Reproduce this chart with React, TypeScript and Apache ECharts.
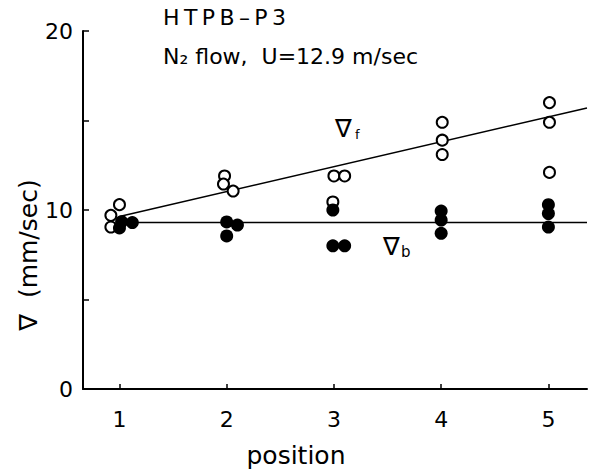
import React, { useEffect, useRef } from "react";
import * as echarts from "echarts";

const positionTicks = [1, 2, 3, 4, 5];
const yTickLabels = ["0", "", "10", "", "20"];

// open circles: V_f  [position, velocity mm/sec]
const vfPoints = [
  [1.0, 10.3], [0.92, 9.7], [0.92, 9.05],
  [1.98, 11.9], [1.97, 11.45], [2.06, 11.06],
  [3.0, 11.9], [3.1, 11.9], [2.99, 10.45],
  [4.01, 14.9], [4.01, 13.9], [4.01, 13.1],
  [5.01, 16.0], [5.01, 14.9], [5.01, 12.1],
];

// filled circles: V_b
const vbPoints = [
  [1.02, 9.35], [1.12, 9.3], [1.0, 9.0],
  [2.0, 9.33], [2.1, 9.16], [2.0, 8.55],
  [2.99, 10.0], [2.99, 8.0], [3.1, 8.0],
  [4.0, 9.94], [4.0, 9.44], [4.0, 8.7],
  [5.0, 10.3], [5.0, 9.8], [5.0, 9.05],
];

const vfFit = [[1.0, 9.64], [5.36, 15.7]];
const vbFit = [[1.0, 9.3], [5.36, 9.3]];

const FONT = "DejaVu Sans";

export default function App() {
  const ref = useRef<HTMLDivElement>(null);
  useEffect(() => {
    if (!ref.current) return;
    const chart = echarts.init(ref.current, null, { renderer: "svg" });
    chart.setOption({
      animation: false,
      backgroundColor: "#fff",
      grid: { left: 83, right: 7, top: 31, bottom: 81, containLabel: false },
      xAxis: {
        type: "value",
        min: 0.66,
        max: 5.36,
        splitLine: { show: false },
        axisLine: { lineStyle: { color: "#000", width: 2 } },
        axisTick: {
          inside: true,
          length: 5,
          customValues: positionTicks,
          lineStyle: { color: "#000", width: 1.5 },
        },
        axisLabel: {
          customValues: positionTicks,
          margin: 19,
          fontSize: 22,
          color: "#000",
          fontFamily: FONT,
        },
      },
      yAxis: {
        type: "value",
        min: 0,
        max: 20,
        interval: 5,
        splitLine: { show: false },
        axisLine: { show: true, lineStyle: { color: "#000", width: 2 } },
        axisTick: { inside: true, length: 6, lineStyle: { color: "#000", width: 1.5 } },
        axisLabel: {
          margin: 10,
          fontSize: 22,
          color: "#000",
          fontFamily: FONT,
          formatter: (v: number) => yTickLabels[Math.round(v / 5)] ?? "",
        },
      },
      series: [
        {
          type: "line",
          data: vfFit,
          showSymbol: false,
          symbol: "none",
          lineStyle: { color: "#000", width: 1.5 },
          z: 2,
        },
        {
          type: "line",
          data: vbFit,
          showSymbol: false,
          symbol: "none",
          lineStyle: { color: "#000", width: 1.5 },
          z: 2,
        },
        {
          type: "scatter",
          data: vfPoints,
          symbol: "circle",
          symbolSize: 11,
          itemStyle: { color: "#fff", borderColor: "#000", borderWidth: 2, opacity: 1 },
          z: 3,
        },
        {
          type: "scatter",
          data: vbPoints,
          symbol: "circle",
          symbolSize: 13,
          itemStyle: { color: "#000", opacity: 1 },
          z: 4,
        },
      ],
      graphic: [
        {
          type: "text",
          left: 163,
          top: 6,
          style: { text: "H\u2009T\u2009P\u2009B\u2009–\u2009P\u20093", fontSize: 22, fontFamily: FONT, fill: "#000" },
        },
        {
          type: "text",
          left: 163,
          top: 45,
          style: { text: "N₂ flow,  U=12.9 m/sec", fontSize: 22, fontFamily: FONT, fill: "#000" },
        },
        {
          type: "text",
          x: 335,
          y: 116,
          style: { text: "∇", fontSize: 25, fontFamily: FONT, fill: "#000" },
        },
        {
          type: "text",
          x: 355,
          y: 128,
          style: { text: "f", fontSize: 13, fontFamily: FONT, fill: "#000" },
        },
        {
          type: "text",
          x: 383,
          y: 234,
          style: { text: "∇", fontSize: 25, fontFamily: FONT, fill: "#000" },
        },
        {
          type: "text",
          x: 401,
          y: 244,
          style: { text: "b", fontSize: 15, fontFamily: FONT, fill: "#000" },
        },
        {
          type: "text",
          x: 296,
          y: 455,
          style: {
            text: "position",
            fontSize: 25,
            fontFamily: FONT,
            fill: "#000",
            align: "center",
            verticalAlign: "middle",
          },
        },
        {
          type: "text",
          x: 28,
          y: 255,
          rotation: Math.PI / 2,
          style: {
            text: "∇  (mm/sec)",
            fontSize: 25,
            fontFamily: FONT,
            fill: "#000",
            align: "center",
            verticalAlign: "middle",
          },
        },
      ],
    });
    return () => chart.dispose();
  }, []);
  return (
    <div
      ref={ref}
      style={{ position: "fixed", left: 0, top: 0, width: 594, height: 470 }}
    />
  );
}
